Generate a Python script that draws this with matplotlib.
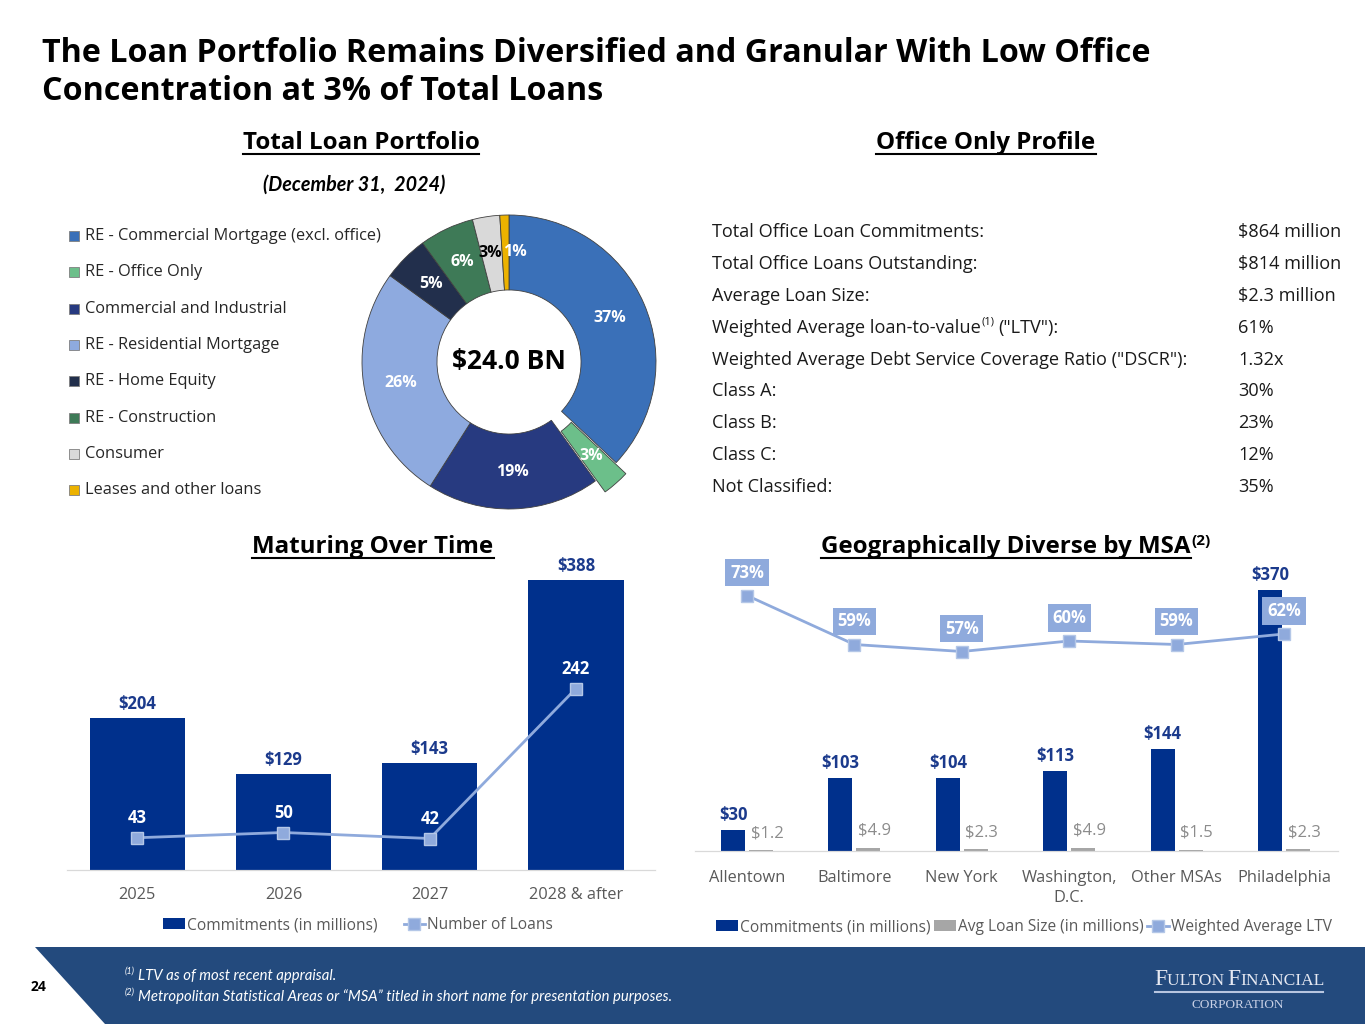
import matplotlib
matplotlib.use('Agg')
import matplotlib.pyplot as plt
from matplotlib.patches import Polygon, Rectangle
from matplotlib.lines import Line2D
import numpy as np

# ---------------- data ----------------
portfolio_labels = ['RE - Commercial Mortgage (excl. office)', 'RE - Office Only',
                    'Commercial and Industrial', 'RE - Residential Mortgage',
                    'RE - Home Equity', 'RE - Construction', 'Consumer',
                    'Leases and other loans']
portfolio_pct = [37, 3, 19, 26, 5, 6, 3, 1]
portfolio_total = '$24.0 BN'

office_metrics = ['Total Office Loan Commitments:', 'Total Office Loans Outstanding:',
                  'Average Loan Size:', 'Weighted Average loan-to-value',
                  'Weighted Average Debt Service Coverage Ratio ("DSCR"):',
                  'Class A:', 'Class B:', 'Class C:', 'Not Classified:']
office_values = ['$864 million', '$814 million', '$2.3 million', '61%', '1.32x',
                 '30%', '23%', '12%', '35%']

maturity_years = ['2025', '2026', '2027', '2028 & after']
maturity_commitments = [204, 129, 143, 388]
maturity_loans = [43, 50, 42, 242]

msa_names = ['Allentown', 'Baltimore', 'New York', 'Washington,\nD.C.', 'Other MSAs', 'Philadelphia']
msa_commitments = [30, 103, 104, 113, 144, 370]
msa_avg_size = [1.2, 4.9, 2.3, 4.9, 1.5, 2.3]
msa_ltv = [73, 59, 57, 60, 59, 62]

# ---------------- style ----------------
W, H = 1365, 1024
plt.rcParams['font.family'] = ['Open Sans', 'DejaVu Sans']
NAVY = '#00308C'
NAVY_TXT = '#1B3A8C'
LINE = '#8FAADC'
GREY_BAR = '#A6A6A6'
TICK = '#595959'
FOOT = '#234A7D'
TXT = '#1a1a1a'
pie_colors = ['#3A70B8', '#6CBF8A', '#273A80', '#8EAADF', '#222F4C', '#3E7A57', '#D9D9D9', '#ECB200']
HEAD_FS = 17.4
TAB_FS = 13.1

fig = plt.figure(figsize=(W / 100, H / 100), dpi=100)

def fx(x):
    return x / W

def fy(y):
    return 1 - y / H

def box(left, top, right, bottom):
    return [fx(left), fy(bottom), (right - left) / W, (bottom - top) / H]

# background / overlay axes in pixel coordinates
bg = fig.add_axes([0, 0, 1, 1], zorder=0)
bg.set_xlim(0, W)
bg.set_ylim(H, 0)
bg.axis('off')

# ---------------- title ----------------
bg.text(42, 53, 'The Loan Portfolio Remains Diversified and Granular With Low Office',
        fontsize=23.2, fontweight='bold', va='center', ha='left', color='black')
bg.text(42, 91, 'Concentration at 3% of Total Loans',
        fontsize=23.2, fontweight='bold', va='center', ha='left', color='black')

headings = []
headings.append(bg.text(361, 143, 'Total Loan Portfolio', fontsize=HEAD_FS, fontweight='bold', ha='center', va='center'))
headings.append(bg.text(986, 143, 'Office Only Profile', fontsize=HEAD_FS, fontweight='bold', ha='center', va='center'))
headings.append(bg.text(373, 547, 'Maturing Over Time', fontsize=HEAD_FS, fontweight='bold', ha='center', va='center'))
h4 = bg.text(1006, 547, 'Geographically Diverse by MSA', fontsize=HEAD_FS, fontweight='bold', ha='center', va='center')
headings.append(h4)
bg.text(354, 185, '(December 31,  2024)', fontsize=14.2, fontweight='bold', style='italic',
        ha='center', va='center', family=['Lato', 'DejaVu Sans'])

# ---------------- donut ----------------
pax = fig.add_axes(box(509 - 160, 362 - 160, 509 + 160, 362 + 160), zorder=2)
R = 147 / 160
explode = [0, 0.1 * R, 0, 0, 0, 0, 0, 0]
wedges, _ = pax.pie(portfolio_pct, startangle=90, counterclock=False, radius=R,
                    colors=pie_colors, explode=explode,
                    wedgeprops=dict(width=R * 0.51, edgecolor='#404040', linewidth=0.6))
pax.set_xlim(-1, 1)
pax.set_ylim(-1, 1)
pax.set_aspect('equal')
label_dx = [0, 0, 0, 0, 0, 0, -0.01, 0.06]
cum = 0
for i, p in enumerate(portfolio_pct):
    mid = 90 - (cum + p / 2) / 100 * 360
    cum += p
    d = 0.75 * R + explode[i]
    xx, yy = d * np.cos(np.radians(mid)) + label_dx[i], d * np.sin(np.radians(mid))
    col = 'black' if i == 6 else 'white'
    pax.text(xx, yy, f'{p}%', ha='center', va='center', fontsize=11.5,
             fontweight='bold', color=col)
pax.text(0, 0, portfolio_total, ha='center', va='center', fontsize=19, fontweight='bold', color='black')

# donut legend
for i, lab in enumerate(portfolio_labels):
    y = 236 + i * 36.3
    bg.add_patch(Rectangle((69, y - 5), 10, 10, facecolor=pie_colors[i], edgecolor='#7F7F7F', linewidth=0.6))
    bg.text(85, y, lab, fontsize=11.8, va='center', ha='left', color='#262626')

# ---------------- office table ----------------
table_texts = []
for i, (m, v) in enumerate(zip(office_metrics, office_values)):
    y = 232 + i * 31.9
    t = bg.text(712, y, m, fontsize=TAB_FS, va='center', ha='left', color=TXT)
    table_texts.append(t)
    bg.text(1238, y, v, fontsize=TAB_FS, va='center', ha='left', color=TXT)

# ---------------- maturing chart ----------------
ax1 = fig.add_axes(box(67, 560, 655, 870), zorder=2)
ax1.patch.set_alpha(0)
x1 = np.arange(len(maturity_years))
b1 = ax1.bar(x1, maturity_commitments, width=0.65, color=NAVY, label='Commitments (in millions)')
ax1.set_xlim(-0.48, 3.54)
ax1.set_ylim(0, 310 / 0.747)
for xi, v in zip(x1, maturity_commitments):
    ax1.annotate(f'${v}', (xi, v), xytext=(0, 5), textcoords='offset pixels',
                 ha='center', va='bottom', fontsize=12, fontweight='bold', color=NAVY_TXT)
ax1b = ax1.twinx()
ax1b.set_ylim(0, 310 / 0.75)
l1, = ax1b.plot(x1, maturity_loans, color=LINE, lw=2, marker='s', markersize=9,
                markerfacecolor=LINE, markeredgecolor='#B4C7E7', markeredgewidth=1,
                label='Number of Loans')
for xi, v in zip(x1, maturity_loans):
    ax1b.annotate(f'{v}', (xi, v), xytext=(0, 11), textcoords='offset pixels',
                  ha='center', va='bottom', fontsize=12, fontweight='bold', color='white')
for a in (ax1, ax1b):
    for s in ('top', 'right', 'left'):
        a.spines[s].set_visible(False)
    a.spines['bottom'].set_color('#D9D9D9')
    a.tick_params(left=False, right=False, labelleft=False, labelright=False, bottom=False)
ax1.set_xticks(x1)
ax1.set_xticklabels(maturity_years, fontsize=11.8, color=TICK)
ax1.tick_params(axis='x', pad=9)
fig.legend(handles=[b1, l1], loc='center', bbox_to_anchor=(fx(358), fy(925)), ncol=2,
           frameon=False, fontsize=11.2, labelcolor=TICK, handlelength=1.4, handleheight=0.7,
           handletextpad=0.12, columnspacing=1.7)

# ---------------- MSA chart ----------------
ax2 = fig.add_axes(box(695, 560, 1338, 851), zorder=2)
ax2.patch.set_alpha(0)
x2 = np.arange(len(msa_names))
bw = 0.223
b2 = ax2.bar(x2 - 0.13, msa_commitments, width=bw, color=NAVY, label='Commitments (in millions)')
b3 = ax2.bar(x2 + 0.13, msa_avg_size, width=bw, color=GREY_BAR, label='Avg Loan Size (in millions)')
ax2.set_xlim(-0.484, 5.503)
ax2.set_ylim(0, 291 / 0.705)
for xi, v in zip(x2, msa_commitments):
    ax2.annotate(f'${v}', (xi - 0.13, v), xytext=(0, 6), textcoords='offset pixels',
                 ha='center', va='bottom', fontsize=12, fontweight='bold', color=NAVY_TXT)
for xi, v in zip(x2, msa_avg_size):
    ax2.annotate(f'${v}', (xi + 0.13, v), xytext=(6, 9), textcoords='offset pixels',
                 ha='center', va='bottom', fontsize=12, color='#8C8C8C')
ax2b = ax2.twinx()
ax2b.set_ylim(0, 291 / 3.5)
l2, = ax2b.plot(x2, msa_ltv, color=LINE, lw=2, marker='s', markersize=9,
                markerfacecolor=LINE, markeredgecolor='#B4C7E7', markeredgewidth=1,
                label='Weighted Average LTV')
for xi, v in zip(x2, msa_ltv):
    ax2b.annotate(f'{v}%', (xi, v), xytext=(0, 23), textcoords='offset pixels',
                  ha='center', va='center', fontsize=12, fontweight='bold', color='white',
                  bbox=dict(boxstyle='square,pad=0.28', facecolor=LINE, edgecolor='none'))
for a in (ax2, ax2b):
    for s in ('top', 'right', 'left'):
        a.spines[s].set_visible(False)
    a.spines['bottom'].set_color('#D9D9D9')
    a.tick_params(left=False, right=False, labelleft=False, labelright=False, bottom=False)
ax2.set_xticks(x2)
ax2.set_xticklabels(msa_names, fontsize=11.8, color=TICK, va='top', linespacing=1.35)
ax2.tick_params(axis='x', pad=10)
fig.legend(handles=[b2, b3, l2], loc='center', bbox_to_anchor=(fx(1024), fy(927)), ncol=3,
           frameon=False, fontsize=11.2, labelcolor=TICK, handlelength=1.4, handleheight=0.7,
           handletextpad=0.12, columnspacing=0.25)

# ---------------- footer ----------------
bg.add_patch(Polygon([(35, 947), (W, 947), (W, H), (105, H)], closed=True, facecolor=FOOT, edgecolor='none'))
bg.text(38, 987, '24', fontsize=10, fontweight='bold', ha='center', va='center', color='black')
fn_fam = ['Lato', 'DejaVu Sans']
bg.text(125, 971, '(1)', fontsize=6.5, style='italic', color='white', va='center', family=fn_fam)
bg.text(138, 976, 'LTV as of most recent appraisal.', fontsize=10.7, style='italic', color='white', va='center', family=fn_fam)
bg.text(125, 992, '(2)', fontsize=6.5, style='italic', color='white', va='center', family=fn_fam)
bg.text(138, 997, 'Metropolitan Statistical Areas or \u201cMSA\u201d titled in short name for presentation purposes.',
        fontsize=10.7, style='italic', color='white', va='center', family=fn_fam)

# logo (small-caps look, built from measured pieces)
serif = ['Liberation Serif', 'DejaVu Serif']
LOGO = '#E6E9F2'
logo_pieces = [('F', 17), ('ULTON ', 12.5), ('F', 17), ('INANCIAL', 12.5)]
fig.canvas.draw()
rend = fig.canvas.get_renderer()
inv = bg.transData.inverted()
objs = []
cx = 0
for s, fs in logo_pieces:
    t = bg.text(0, 985, s, fontsize=fs, color=LOGO, ha='left', va='baseline', family=serif)
    objs.append(t)
widths = []
for t in objs:
    bb = t.get_window_extent(rend)
    widths.append(bb.width)
total = sum(widths) - 2
start = 1239 - total / 2
xpos = start
for t, w in zip(objs, widths):
    t.set_x(xpos)
    xpos += w - 0.5
bg.add_line(Line2D([1155, 1323], [992, 992], color='#B8C6E0', lw=1.5))
bg.text(1238, 1005, 'CORPORATION', fontsize=9.5, color='#C9D1E6', ha='center', va='center', family=serif)

# ---------------- measured decorations ----------------
fig.canvas.draw()
for t in headings:
    bb = t.get_window_extent(rend)
    (x0, y0), (x1_, y1_) = inv.transform([(bb.x0, bb.y0), (bb.x1, bb.y1)])
    bg.add_line(Line2D([x0, x1_], [y0 - 1, y0 - 1], color='black', lw=1.5))
bb = h4.get_window_extent(rend)
(x0, y0), (x1_, y1_) = inv.transform([(bb.x0, bb.y0), (bb.x1, bb.y1)])
bg.text(x1_ + 1, 541, '(2)', fontsize=11, fontweight='bold', ha='left', va='center')
bb = table_texts[3].get_window_extent(rend)
(x0, y0), (x1_, y1_) = inv.transform([(bb.x0, bb.y0), (bb.x1, bb.y1)])
sup = bg.text(x1_ + 1, 322, '(1)', fontsize=8, ha='left', va='center', color=TXT)
fig.canvas.draw()
bb = sup.get_window_extent(rend)
(x0, y0), (x1_, y1_) = inv.transform([(bb.x0, bb.y0), (bb.x1, bb.y1)])
bg.text(x1_ + 3, 232 + 3 * 31.9, '("LTV"):', fontsize=TAB_FS, va='center', ha='left', color=TXT)

fig.savefig('out.png', dpi=100)
